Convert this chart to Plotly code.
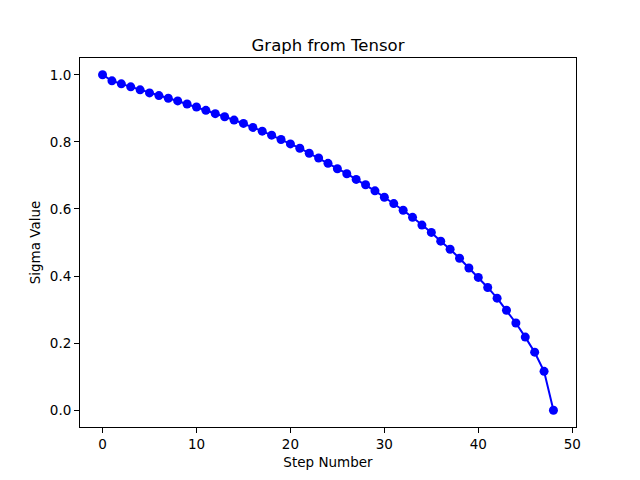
import plotly.graph_objects as go

steps = list(range(49))
sigma = [1.0, 0.982, 0.973, 0.964, 0.955, 0.946, 0.938, 0.930, 0.922, 0.913,
         0.904, 0.894, 0.884, 0.875, 0.865, 0.855, 0.843, 0.832, 0.820, 0.807,
         0.794, 0.781, 0.766, 0.752, 0.736, 0.720, 0.705, 0.688, 0.672, 0.654,
         0.635, 0.616, 0.596, 0.575, 0.552, 0.530, 0.504, 0.480, 0.453, 0.424,
         0.396, 0.366, 0.334, 0.298, 0.260, 0.218, 0.173, 0.116, 0.0]
x_ticks = [0, 10, 20, 30, 40, 50]
y_ticks = [0.0, 0.2, 0.4, 0.6, 0.8, 1.0]

fig = go.Figure(go.Scatter(
    x=steps, y=sigma, mode="lines+markers",
    line=dict(color="#0000ff", width=2),
    marker=dict(color="#0000ff", size=9),
))

axis_common = dict(showline=True, linecolor="black", linewidth=1, mirror=True,
                   ticks="outside", ticklen=5, tickwidth=1, tickcolor="black",
                   showgrid=False, zeroline=False, automargin=False,
                   tickfont=dict(family="DejaVu Sans", size=13.5, color="black"))

fig.update_layout(
    width=640, height=480,
    margin=dict(l=72, r=72, t=50, b=61),
    paper_bgcolor="white", plot_bgcolor="white",
    font=dict(family="DejaVu Sans", color="black"),
    showlegend=False,
    title=dict(text="Graph from Tensor", x=0.5, xref="paper", y=1, yref="paper",
               xanchor="center", yanchor="bottom", pad=dict(b=7), automargin=False,
               font=dict(family="DejaVu Sans", size=16.5, color="black")),
    xaxis=dict(range=[-2.4, 50.4], tickvals=x_ticks,
               ticktext=[str(v) for v in x_ticks],
               title=dict(text="Step Number", standoff=6,
                          font=dict(family="DejaVu Sans", size=13.5)),
               **axis_common),
    yaxis=dict(range=[-0.05, 1.05], tickvals=y_ticks,
               ticktext=[f"{v:.1f}" for v in y_ticks],
               title=dict(text="Sigma Value", standoff=6,
                          font=dict(family="DejaVu Sans", size=13.5)),
               **axis_common),
)

fig.write_html("out.html")
